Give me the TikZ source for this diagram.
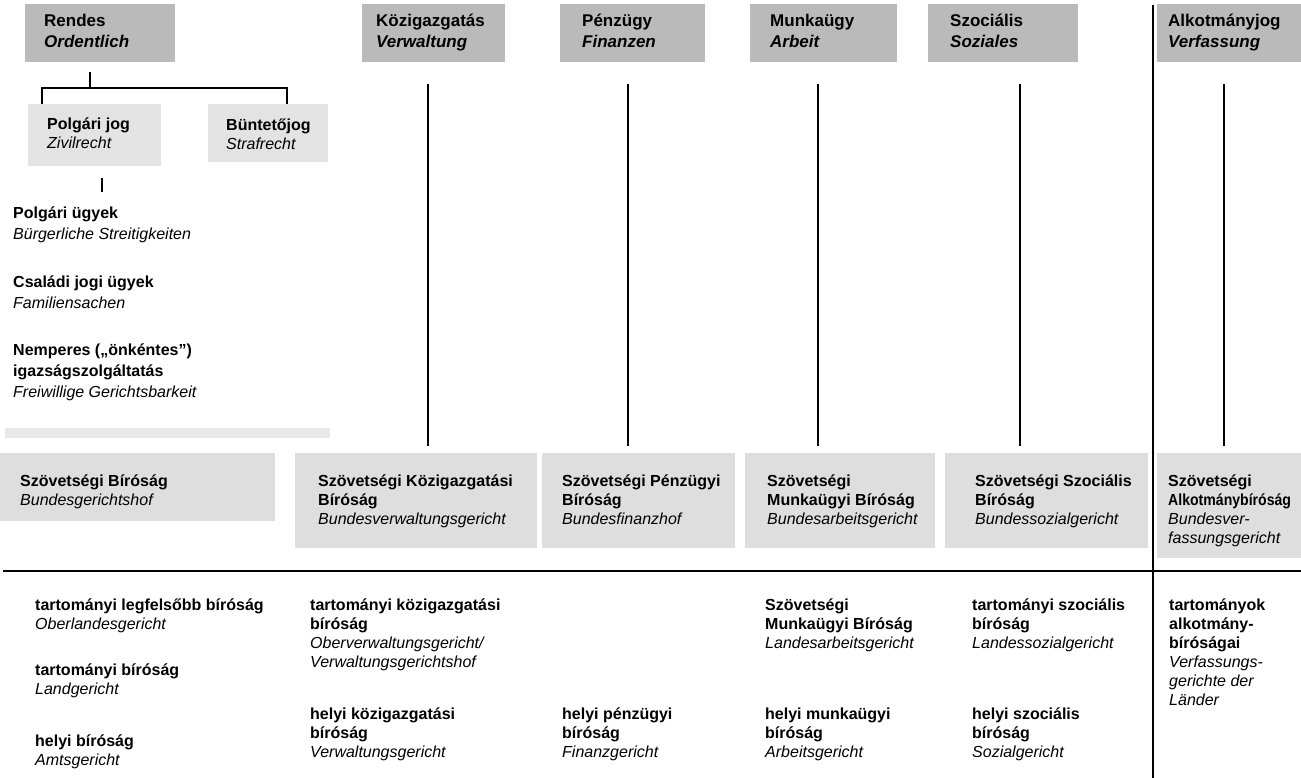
\documentclass[tikz,border=0pt]{standalone}
\usepackage{fontspec}
\setmainfont{Liberation Sans}
\newcommand\headsize{\fontsize{17}{21}\selectfont}
\newcommand\bodysize{\fontsize{16}{19}\selectfont}
\newcommand\listsize{\fontsize{16}{21}\selectfont}
\tikzset{
  headbox/.style={fill=black!27, inner sep=0pt, anchor=north west},
  subbox/.style={fill=black!11, inner sep=0pt, anchor=north west},
  fedbox/.style={fill=black!13, inner sep=0pt, anchor=north west},
  headtext/.style={anchor=base west, align=left, inner sep=0pt, font=\headsize},
  courttext/.style={anchor=base west, align=left, inner sep=0pt, font=\bodysize},
  listtext/.style={anchor=base west, align=left, inner sep=0pt, font=\listsize},
  rule/.style={line width=1.8pt}
}
\begin{document}
\begin{tikzpicture}[x=1pt,y=-1pt]
\useasboundingbox (0,0) rectangle (1301,778);

\node[headbox, minimum width=150, minimum height=58] (rendes) at (25,4) {};
\node[headbox, minimum width=143, minimum height=58] (kozig) at (362,4) {};
\node[headbox, minimum width=145, minimum height=58] (penz) at (560,4) {};
\node[headbox, minimum width=147, minimum height=58] (munka) at (750,4) {};
\node[headbox, minimum width=150, minimum height=58] (szoc) at (928,4) {};
\node[headbox, minimum width=144, minimum height=58] (alkot) at (1157,4) {};

\node[headtext] (rendes-t) at (44,48) {\textbf{Rendes}\\\textbf{\textit{Ordentlich}}};
\node[headtext] (kozig-t) at (376,48) {\textbf{Közigazgatás}\\\textbf{\textit{Verwaltung}}};
\node[headtext] (penz-t) at (582,48) {\textbf{Pénzügy}\\\textbf{\textit{Finanzen}}};
\node[headtext] (munka-t) at (770,48) {\textbf{Munkaügy}\\\textbf{\textit{Arbeit}}};
\node[headtext] (szoc-t) at (950,48) {\textbf{Szociális}\\\textbf{\textit{Soziales}}};
\node[headtext] (alkot-t) at (1168,48) {\textbf{Alkotmányjog}\\\textbf{\textit{Verfassung}}};

\node[subbox, minimum width=133, minimum height=62] (polgari) at (28,104) {};
\node[subbox, minimum width=120, minimum height=58] (bunteto) at (208,104) {};
\node[courttext] (polgari-t) at (47,149) {\textbf{Polgári jog}\\\textit{Zivilrecht}};
\node[courttext] (bunteto-t) at (226,150) {\textbf{Büntetőjog}\\\textit{Strafrecht}};

\coordinate (rendes-out) at (90,72);
\coordinate (fork) at (90,88);
\coordinate (polgari-in) at (42,104);
\coordinate (bunteto-in) at (287,104);
\draw[rule] (rendes-out) -- (fork);
\draw[rule] (polgari-in) |- (fork) -| (bunteto-in);
\coordinate (polgari-out) at (102,178);
\coordinate (ugyek-in) at (102,192);
\draw[rule] (polgari-out) -- (ugyek-in);

\node[listtext] (ugyek) at (13,240) {\textbf{Polgári ügyek}\\\textit{Bürgerliche Streitigkeiten}};
\node[listtext] (csaladi) at (13,308) {\textbf{Családi jogi ügyek}\\\textit{Familiensachen}};
\node[listtext] (nemperes) at (13,397) {\textbf{Nemperes („önkéntes”)}\\\textbf{igazságszolgáltatás}\\\textit{Freiwillige Gerichtsbarkeit}};
\fill[black!9] (5,428) rectangle (330,438);

\foreach \col/\x in {kozig/428, penz/628, munka/818, szoc/1020, alkot/1224} {
  \coordinate (\col-top) at (\x,84);
  \coordinate (\col-bot) at (\x,446);
  \draw[rule] (\col-top) -- (\col-bot);
}

\node[fedbox, minimum width=275, minimum height=68] (bgh) at (0,453) {};
\node[fedbox, minimum width=242, minimum height=95] (bverwg) at (295,453) {};
\node[fedbox, minimum width=193, minimum height=95] (bfh) at (542,453) {};
\node[fedbox, minimum width=190, minimum height=95] (bag) at (745,453) {};
\node[fedbox, minimum width=203, minimum height=95] (bsg) at (945,453) {};
\node[fedbox, minimum width=144, minimum height=105] (bverfg) at (1157,453) {};

\node[courttext] (bgh-t) at (20,505) {\textbf{Szövetségi Bíróság}\\\textit{Bundesgerichtshof}};
\node[courttext] (bverwg-t) at (318,524) {\textbf{Szövetségi Közigazgatási}\\\textbf{Bíróság}\\\textit{Bundesverwaltungsgericht}};
\node[courttext] (bfh-t) at (562,524) {\textbf{Szövetségi Pénzügyi}\\\textbf{Bíróság}\\\textit{Bundesfinanzhof}};
\node[courttext] (bag-t) at (767,524) {\textbf{Szövetségi}\\\textbf{Munkaügyi Bíróság}\\\textit{Bundesarbeitsgericht}};
\node[courttext] (bsg-t) at (975,524) {\textbf{Szövetségi Szociális}\\\textbf{Bíróság}\\\textit{Bundessozialgericht}};
\node[courttext] (bverfg-t) at (1168,543) {\textbf{Szövetségi}\\\scalebox{0.88}[1]{\textbf{Alkotmánybíróság}}\\\textit{Bundesver-}\\\textit{fassungsgericht}};

\coordinate (sep-top) at (1153,5);
\coordinate (sep-bot) at (1153,778);
\draw[rule] (sep-top) -- (sep-bot);
\coordinate (level-l) at (3,571);
\coordinate (level-r) at (1301,571);
\draw[rule] (level-l) -- (level-r);

\node[courttext] (olg) at (35,629) {\textbf{tartományi legfelsőbb bíróság}\\\textit{Oberlandesgericht}};
\node[courttext] (lg) at (35,694) {\textbf{tartományi bíróság}\\\textit{Landgericht}};
\node[courttext] (ag) at (35,765) {\textbf{helyi bíróság}\\\textit{Amtsgericht}};
\node[courttext] (ovg) at (310,667) {\textbf{tartományi közigazgatási}\\\textbf{bíróság}\\\textit{Oberverwaltungsgericht/}\\\textit{Verwaltungsgerichtshof}};
\node[courttext] (vg) at (310,757) {\textbf{helyi közigazgatási}\\\textbf{bíróság}\\\textit{Verwaltungsgericht}};
\node[courttext] (fg) at (562,757) {\textbf{helyi pénzügyi}\\\textbf{bíróság}\\\textit{Finanzgericht}};
\node[courttext] (lag) at (765,648) {\textbf{Szövetségi}\\\textbf{Munkaügyi Bíróság}\\\textit{Landesarbeitsgericht}};
\node[courttext] (arbg) at (765,757) {\textbf{helyi munkaügyi}\\\textbf{bíróság}\\\textit{Arbeitsgericht}};
\node[courttext] (lsg) at (972,648) {\textbf{tartományi szociális}\\\textbf{bíróság}\\\textit{Landessozialgericht}};
\node[courttext] (sg) at (972,757) {\textbf{helyi szociális}\\\textbf{bíróság}\\\textit{Sozialgericht}};
\node[courttext] (lverfg) at (1169,705) {\textbf{tartományok}\\\textbf{alkotmány-}\\\textbf{bíróságai}\\\textit{Verfassungs-}\\\textit{gerichte der}\\\textit{Länder}};
\end{tikzpicture}
\end{document}
